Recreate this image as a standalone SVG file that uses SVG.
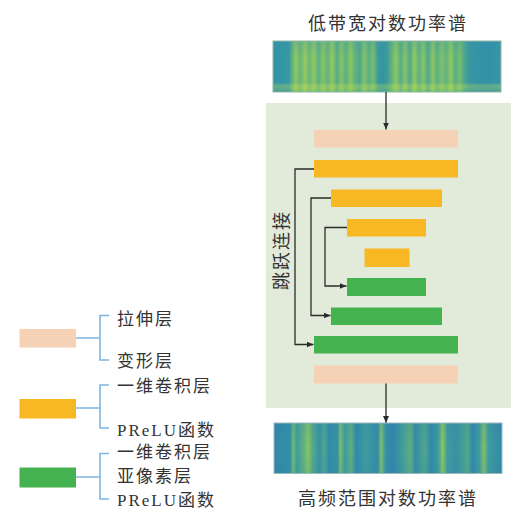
<svg xmlns="http://www.w3.org/2000/svg" width="532" height="515" viewBox="0 0 532 515">
<style>
.t{font-family:"Liberation Serif","Noto Sans CJK SC",serif;fill:#333;font-size:17px;letter-spacing:2px}
.title{font-family:"Noto Sans CJK SC",serif;fill:#333;font-size:18px;letter-spacing:2px;text-anchor:middle}
.peach{fill:#F5D1B6}
.orange{fill:#F8B823}
.green{fill:#45B250}
.lg{stroke:#7DB6E3;stroke-width:1.6;fill:none}
.cn{stroke:#2b2b2b;stroke-width:1.3;fill:none}
</style>
<defs>
<marker id="ah" markerWidth="8" markerHeight="8" refX="7" refY="4" orient="auto" markerUnits="userSpaceOnUse">
<path d="M0,1 L7,4 L0,7 Z" fill="#2b2b2b"/>
</marker>
<linearGradient id="specTop" x1="0" y1="0" x2="1" y2="0">
<stop offset="0" stop-color="#3193a4"/><stop offset="0.07" stop-color="#3599a0"/>
<stop offset="0.085" stop-color="#68b678"/><stop offset="0.1" stop-color="#94cb5e"/>
<stop offset="0.12" stop-color="#6cb876"/><stop offset="0.14" stop-color="#9bce5a"/>
<stop offset="0.16" stop-color="#70ba74"/><stop offset="0.18" stop-color="#95cc5d"/>
<stop offset="0.2" stop-color="#5fb27e"/><stop offset="0.22" stop-color="#8dc862"/>
<stop offset="0.24" stop-color="#68b678"/><stop offset="0.26" stop-color="#98cd5c"/>
<stop offset="0.28" stop-color="#58ae82"/><stop offset="0.3" stop-color="#8ac764"/>
<stop offset="0.32" stop-color="#5fb27e"/><stop offset="0.34" stop-color="#90ca60"/>
<stop offset="0.36" stop-color="#65b47a"/><stop offset="0.38" stop-color="#4fa888"/>
<stop offset="0.4" stop-color="#88c666"/><stop offset="0.42" stop-color="#5db17f"/>
<stop offset="0.44" stop-color="#7cc06c"/><stop offset="0.46" stop-color="#3c9c98"/>
<stop offset="0.48" stop-color="#3494a2"/><stop offset="0.5" stop-color="#3c9c98"/>
<stop offset="0.52" stop-color="#66b579"/><stop offset="0.54" stop-color="#92cb5f"/>
<stop offset="0.56" stop-color="#5aaf81"/><stop offset="0.58" stop-color="#8cc862"/>
<stop offset="0.6" stop-color="#52aa86"/><stop offset="0.62" stop-color="#97cd5c"/>
<stop offset="0.64" stop-color="#62b37c"/><stop offset="0.66" stop-color="#8bc763"/>
<stop offset="0.68" stop-color="#50a988"/><stop offset="0.7" stop-color="#92ca5f"/>
<stop offset="0.72" stop-color="#5db17f"/><stop offset="0.74" stop-color="#85c567"/>
<stop offset="0.76" stop-color="#66b579"/><stop offset="0.78" stop-color="#94cc5e"/>
<stop offset="0.8" stop-color="#5db17f"/><stop offset="0.82" stop-color="#7cc06c"/>
<stop offset="0.84" stop-color="#4fa888"/><stop offset="0.86" stop-color="#3897a0"/>
<stop offset="0.94" stop-color="#3190a8"/><stop offset="1" stop-color="#3797a0"/>
</linearGradient>
<linearGradient id="specTopV" x1="0" y1="0" x2="0" y2="1">
<stop offset="0" stop-color="#3a8fb0" stop-opacity="0.25"/>
<stop offset="0.35" stop-color="#3a8fb0" stop-opacity="0.05"/>
<stop offset="0.8" stop-color="#3a8fb0" stop-opacity="0.1"/>
<stop offset="0.87" stop-color="#b8d95a" stop-opacity="0.35"/>
<stop offset="0.94" stop-color="#b8d95a" stop-opacity="0.3"/>
<stop offset="1" stop-color="#6ab870" stop-opacity="0.2"/>
</linearGradient>
<linearGradient id="specBot" x1="0" y1="0" x2="1" y2="0">
<stop offset="0" stop-color="#3189aa"/><stop offset="0.07" stop-color="#348fa6"/>
<stop offset="0.085" stop-color="#72bb70"/><stop offset="0.1" stop-color="#3f9c9c"/>
<stop offset="0.13" stop-color="#62b37c"/><stop offset="0.15" stop-color="#86c566"/>
<stop offset="0.17" stop-color="#52aa88"/><stop offset="0.2" stop-color="#3792a4"/>
<stop offset="0.22" stop-color="#4fa88a"/><stop offset="0.24" stop-color="#338ca8"/>
<stop offset="0.28" stop-color="#3792a4"/><stop offset="0.29" stop-color="#7ec06a"/>
<stop offset="0.31" stop-color="#3f9c9c"/><stop offset="0.34" stop-color="#5db07e"/>
<stop offset="0.36" stop-color="#3189aa"/><stop offset="0.4" stop-color="#3f9c9c"/>
<stop offset="0.455" stop-color="#348ca8"/><stop offset="0.47" stop-color="#80c169"/>
<stop offset="0.49" stop-color="#3792a4"/><stop offset="0.52" stop-color="#2f86ac"/>
<stop offset="0.56" stop-color="#3f9c9c"/><stop offset="0.6" stop-color="#5db07e"/>
<stop offset="0.62" stop-color="#348ca8"/><stop offset="0.66" stop-color="#4fa88a"/>
<stop offset="0.69" stop-color="#3189aa"/><stop offset="0.72" stop-color="#3f9c9c"/>
<stop offset="0.74" stop-color="#8cc862"/><stop offset="0.76" stop-color="#3f9c9c"/>
<stop offset="0.8" stop-color="#3792a4"/><stop offset="0.85" stop-color="#52aa88"/>
<stop offset="0.87" stop-color="#3189aa"/><stop offset="0.9" stop-color="#3f9c9c"/>
<stop offset="0.92" stop-color="#80c169"/><stop offset="0.94" stop-color="#3f9c9c"/>
<stop offset="1" stop-color="#3189aa"/>
</linearGradient>
<linearGradient id="specBotV" x1="0" y1="0" x2="0" y2="1">
<stop offset="0" stop-color="#2a78b0" stop-opacity="0.15"/>
<stop offset="0.5" stop-color="#2a78b0" stop-opacity="0"/>
<stop offset="1" stop-color="#2a78b0" stop-opacity="0.12"/>
</linearGradient>
</defs>

<rect x="0" y="0" width="532" height="515" fill="#ffffff"/>

<g id="title-top">
<text class="title" x="388" y="30">低带宽对数功率谱</text>
</g>
<g id="spec-top">
<rect x="273" y="41" width="228" height="51" fill="url(#specTop)"/>
<rect x="273" y="41" width="228" height="51" fill="url(#specTopV)" stroke="#8fb8a8" stroke-width="1"/>
</g>

<g id="panel">
<rect x="266" y="103" width="245" height="305" fill="#E2EBDA"/>
</g>

<g id="skip-label">
<text class="title" transform="translate(280,250) rotate(-90)" dominant-baseline="central">跳跃连接</text>
</g>

<g id="bar-reshape-in"><rect class="peach" x="314" y="130" width="144" height="17.5"/></g>
<g id="bar-conv1"><rect class="orange" x="314" y="160" width="144" height="17.5"/></g>
<g id="bar-conv2"><rect class="orange" x="331" y="189.5" width="111" height="17.5"/></g>
<g id="bar-conv3"><rect class="orange" x="347" y="219" width="79" height="17.5"/></g>
<g id="bar-conv4"><rect class="orange" x="364.5" y="248.5" width="45" height="18.5"/></g>
<g id="bar-up1"><rect class="green" x="347" y="278" width="79" height="18"/></g>
<g id="bar-up2"><rect class="green" x="331" y="307.5" width="111" height="17.5"/></g>
<g id="bar-up3"><rect class="green" x="314" y="336" width="144" height="17.5"/></g>
<g id="bar-reshape-out"><rect class="peach" x="314" y="365.5" width="144" height="18"/></g>

<g id="connectors">
<line class="cn" x1="386" y1="92" x2="386" y2="129.5" marker-end="url(#ah)"/>
<polyline class="cn" points="314,169 295,169 295,344.5 313.5,344.5" marker-end="url(#ah)"/>
<polyline class="cn" points="331,198 311,198 311,315.5 330.5,315.5" marker-end="url(#ah)"/>
<polyline class="cn" points="347,227.5 325,227.5 325,286 346.5,286" marker-end="url(#ah)"/>
<line class="cn" x1="386" y1="383.5" x2="386" y2="423" marker-end="url(#ah)"/>
</g>

<g id="spec-bottom">
<rect x="274" y="423" width="228" height="50.5" fill="url(#specBot)"/>
<rect x="274" y="423" width="228" height="50.5" fill="url(#specBotV)" stroke="#9ab8c0" stroke-width="1"/>
</g>
<g id="title-bottom">
<text class="title" x="388" y="505">高频范围对数功率谱</text>
</g>

<g id="legend-peach">
<rect class="peach" x="19.5" y="329" width="56.5" height="18.5"/>
<path class="lg" d="M76,338 H100 M109,315.5 H100 V360 H109"/>
<text class="t" x="117" y="325">拉伸层</text>
<text class="t" x="117" y="367">变形层</text>
</g>
<g id="legend-orange">
<rect class="orange" x="19.5" y="399" width="56.5" height="19.5"/>
<path class="lg" d="M76,408 H100 M109,385 H100 V428 H109"/>
<text class="t" x="117" y="392">一维卷积层</text>
<text class="t" x="117" y="436">PReLU函数</text>
</g>
<g id="legend-green">
<rect class="green" x="19.5" y="467.5" width="56.5" height="20"/>
<path class="lg" d="M76,477 H100 M109,453.5 H100 V499 H109"/>
<text class="t" x="117" y="458">一维卷积层</text>
<text class="t" x="117" y="482">亚像素层</text>
<text class="t" x="117" y="506">PReLU函数</text>
</g>
</svg>
